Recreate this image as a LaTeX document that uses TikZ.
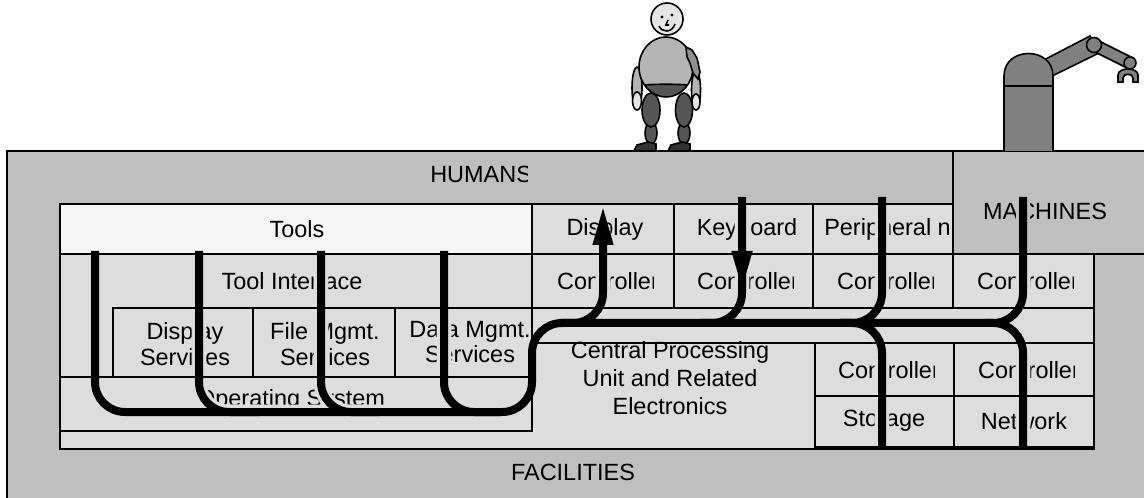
\documentclass[tikz,border=0pt]{standalone}
\usepackage{fontspec}
\setmainfont{Liberation Sans}
\usetikzlibrary{arrows.meta}

\definecolor{outerfill}{RGB}{191,191,191}
\definecolor{cellfill}{RGB}{221,221,221}
\definecolor{toolfill}{RGB}{246,246,246}
\definecolor{robotfill}{RGB}{128,128,128}
\definecolor{bodyfill}{RGB}{180,180,180}
\definecolor{headfill}{RGB}{230,230,230}
\definecolor{pantsfill}{RGB}{85,85,85}

\tikzset{
  cell/.style={draw=black,line width=1pt},
  lbl/.style={inner sep=0pt,font=\fontsize{17.6}{19}\selectfont,align=center},
  wire/.style={line width=6pt,rounded corners=22.5pt},
  halo/.style={wire,line width=11pt,draw=cellfill},
  tip/.style={-{Triangle[length=30pt,width=14pt]}},
  part/.style={draw=black,line width=1.2pt},
}

% every signal path, used once for the knock-out and once in black
\newcommand{\wires}[1]{%
  \draw[#1] (95,251) -- (95,412) -- (532,412) -- (532,323) -- (jm);
  \draw[#1] (199,251) -- (199,412) -- (260,412);
  \draw[#1] (321,251) -- (321,412) -- (380,412);
  \draw[#1] (444,251) -- (444,412) -- (500,412);
  \draw[#1] (560,323) -- (603,323) -- (603,225);
  \draw[#1] (742,197) -- (742,323) -- (700,323);
  \draw[#1] (882,197) -- (882,323) -- (jp);
  \draw[#1] (jp) -- (882,323) -- (882,447);
  \draw[#1] (1023,197) -- (1023,323) -- (jm);
  \draw[#1] (jm) -- (1023,323) -- (1023,447);
}

% one controller cell with its clipped caption
\newcommand{\ctrl}[3]{%
  \begin{scope}
    \clip (#1-65,#2-22) rectangle (#1+50.5,#2+22);
    \node[lbl] (#3) at (#1+5,#2) {Controller};
  \end{scope}
}

\begin{document}
\begin{tikzpicture}[x=0.75pt,y=0.75pt,yscale=-1]
\useasboundingbox (0,0) rectangle (1144,498);
\clip (0,0) rectangle (1144,498);

\coordinate (jp) at (840,323);
\coordinate (jm) at (985,323);

%Shape: humans / facilities frame
\draw[cell,fill=outerfill] (7,151) rectangle (1160,520);

%cell fills
\fill[cellfill] (60,204) rectangle (1094,449);
\fill[toolfill] (60,204) rectangle (532,254);

% Text Nodes
\begin{scope}
  \clip (7,151) rectangle (527,204);
  \node[lbl,anchor=west] (humans) at (430,174) {HUMANS};
\end{scope}
\node[lbl] (facilities) at (573,472) {FACILITIES};
\node[lbl] (tools) at (297,229) {Tools};
\node[lbl] (toolif) at (292,281) {Tool Interface};
\node[lbl] (dispsrv) at (185,344) {Display\\Services};
\node[lbl] (filesrv) at (325,344) {File Mgmt.\\Services};
\node[lbl] (datasrv) at (470,342) {Data Mgmt.\\Services};
\node[lbl] (os) at (291,400) {Operating System};
\node[lbl,font=\fontsize{17.6}{21}\selectfont] (cpu) at (670,378) {Central Processing\\Unit and Related\\Electronics};
\node[lbl] (display) at (605,229) {Display};
\node[lbl] (keyboard) at (747,229) {Keyboard};
\node[lbl,anchor=west] (periph) at (824,229) {Peripheral n};
\ctrl{603}{281}{ctrlA}
\ctrl{743}{281}{ctrlB}
\ctrl{883}{281}{ctrlC}
\ctrl{1023}{281}{ctrlD}
\ctrl{884}{370}{ctrlE}
\ctrl{1024}{370}{ctrlF}
\node[lbl] (storage) at (884,421) {Storage};
\node[lbl] (network) at (1024,421) {Network};

%knock-out under the paths
\begin{scope}
  \clip (60,254) -- (532,254) -- (532,204) -- (1094,204) -- (1094,449) -- (60,449) -- cycle;
  \wires{halo}
\end{scope}

%Shape: machines block
\draw[cell,fill=outerfill] (953,151) rectangle (1160,254);
\node[lbl] (machines) at (1045,211) {MACHINES};
\begin{scope}
  \clip (953,151) rectangle (1144,254);
  \draw[halo,draw=outerfill] (1023,197) -- (1023,260);
\end{scope}

%cell borders
\draw[cell] (60,204) rectangle (532,254);
\draw[cell] (60,254) rectangle (532,377);
\draw[cell] (113,308) rectangle (253,377);
\draw[cell] (253,308) rectangle (395,377);
\draw[cell] (395,308) rectangle (532,377);
\draw[cell] (60,377) rectangle (532,431);
\draw[cell] (532,204) rectangle (674,254);
\draw[cell] (674,204) rectangle (813,254);
\draw[cell] (813,204) -- (953,204);
\draw[cell] (532,254) rectangle (674,308);
\draw[cell] (674,254) rectangle (813,308);
\draw[cell] (813,254) rectangle (953,308);
\draw[cell] (953,254) rectangle (1094,308);
\draw[cell] (532,308) rectangle (1094,343);
\draw[cell] (815,343) rectangle (954,396);
\draw[cell] (954,343) rectangle (1094,396);
\draw[cell] (815,396) rectangle (954,447);
\draw[cell] (954,396) rectangle (1094,447);
\draw[cell,line width=1.5pt] (60,204) -- (60,449) -- (1094,449) -- (1094,254);
\draw[cell] (953,151) -- (953,254) -- (1144,254);

%signal paths
\wires{wire}
\draw[wire,tip] (603,240) -- (603,205);
\draw[wire,tip] (742,230) -- (742,291);

%Human
\draw[part,fill=bodyfill] (637,88) ellipse (5 and 21);
\draw[part,fill=bodyfill] (696,90) ellipse (4.5 and 19);
\draw[part,fill=headfill] (637,101) ellipse (4.5 and 9);
\draw[part,fill=headfill] (696,102) ellipse (4 and 8);
\draw[part,fill=pantsfill] (651,133) ellipse (6 and 11);
\draw[part,fill=pantsfill] (684,133) ellipse (6 and 11);
\draw[part,fill=pantsfill] (651,110) ellipse (9 and 17);
\draw[part,fill=pantsfill] (684,110) ellipse (8.5 and 17);
\draw[part,fill=pantsfill!60!black] (634,151) -- (637,145) -- (648,142) -- (656,144) -- (656,151) -- cycle;
\draw[part,fill=pantsfill!60!black] (668,151) -- (671,145) -- (682,142) -- (690,144) -- (690,151) -- cycle;
\begin{scope}
  \clip (666,67) ellipse (27 and 30);
  \fill[bodyfill] (630,30) rectangle (705,85);
  \fill[pantsfill] (630,85) rectangle (705,100);
\end{scope}
\draw[part] (666,67) ellipse (27 and 30);
\draw[part] (644,85) .. controls (655,84) and (677,84) .. (688,85);
\draw[part,fill=bodyfill!80!black] (686,47) -- (692,50) -- (697,58) -- (700,72) -- (698,79) -- (693,73) -- (690,63) -- (687,57) -- cycle;
\draw[part,fill=headfill] (667,19) circle (16);
\fill (662,17) circle (1.6);
\fill (672,15) circle (1.6);
\draw[line width=1.2pt] (668,20) -- (666,25) -- (669,25);
\draw[line width=1.2pt] (659,26) .. controls (662,33) and (672,33) .. (675,24);

%Robot
\draw[part,fill=robotfill] (1040,62) -- (1090,36) -- (1099,53) -- (1050,77) -- cycle;
\draw[part,fill=robotfill] (1097,40) -- (1133,58) -- (1127,68) -- (1091,50) -- cycle;
\draw[part,fill=robotfill] (1118,82) -- (1118,75) .. controls (1118,67) and (1138,67) .. (1138,75) -- (1138,82) -- (1133,82) -- (1133,78) .. controls (1133,73) and (1123,73) .. (1123,78) -- (1123,82) -- cycle;
\draw[part,fill=robotfill] (1130,63) circle (6);
\draw[part,fill=robotfill] (1094,45) circle (7.5);
\draw[part,fill=robotfill] (1004,151) -- (1004,76) .. controls (1004,46) and (1053,46) .. (1053,76) -- (1053,151);
\draw[part] (1004,86) -- (1053,86);

\end{tikzpicture}
\end{document}
